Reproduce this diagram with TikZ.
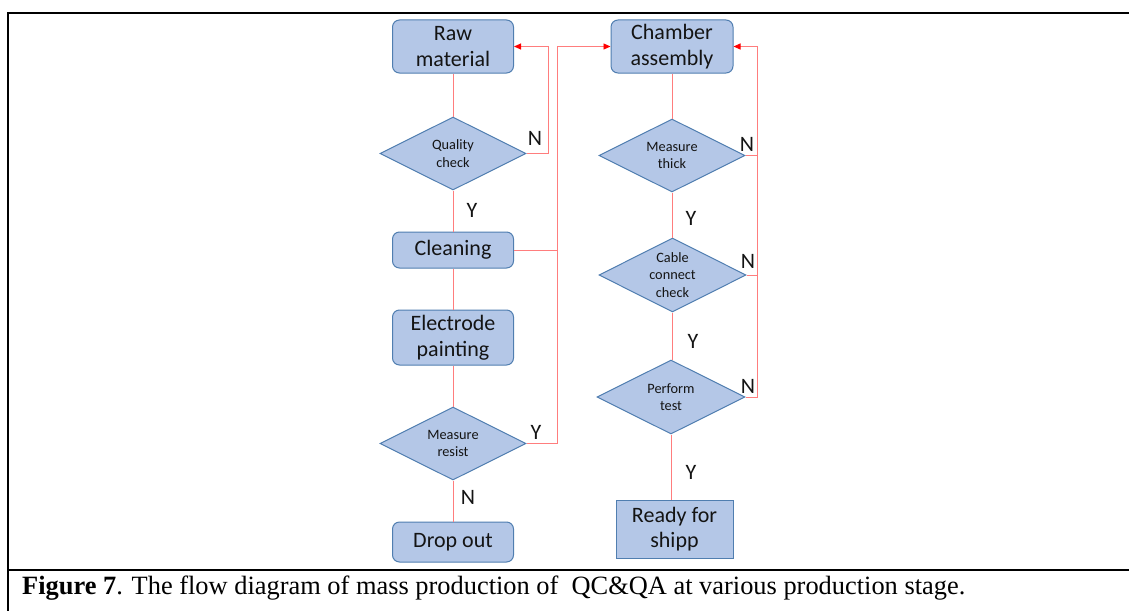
\documentclass[tikz,border=0pt]{standalone}
\usepackage{fontspec}
\setmainfont{Carlito}
\newfontfamily\capfont{Liberation Serif}
\usetikzlibrary{shapes.geometric,arrows.meta}
\definecolor{boxfill}{RGB}{180,199,231}
\definecolor{boxline}{RGB}{80,126,176}
\definecolor{linec}{RGB}{255,125,125}
\definecolor{txt}{RGB}{20,20,20}
\tikzset{
  rbox/.style={draw=boxline, fill=boxfill, line width=1pt, rounded corners=7pt,
    align=center, font=\fontsize{22}{25.5}\selectfont, text=txt, inner sep=0pt},
  sbox/.style={rbox, rounded corners=0pt},
  dia/.style={diamond, draw=boxline, fill=boxfill, line width=1pt, inner sep=0pt},
  dtext/.style={align=center, font=\fontsize{14.3}{17.5}\selectfont, text=txt},
  conn/.style={draw=linec, line width=0.9pt},
  arr/.style={conn, -{Triangle[length=7pt,width=6pt,color=red]}},
  yn/.style={font=\fontsize{22}{24}\selectfont, text=txt, inner sep=0pt},
  frame/.style={line width=2.5pt, draw=black}
}
\begin{document}
\begin{tikzpicture}[x=1pt,y=-1pt]
\useasboundingbox (0,0) rectangle (1129,610);
% frame
\draw[frame] (8,611) -- (8,13) -- (1130,13);
\draw[frame] (8,570) -- (1130,570);
% left column
\node[rbox, minimum width=121pt, minimum height=53pt] (raw) at (453,46.5) {Raw\\material};
\node[dia, minimum width=146pt, minimum height=73pt,
  label={[dtext]center:Quality\\check}] (qc) at (453,153.5) {};
\node[rbox, minimum width=121pt, minimum height=36pt] (cl) at (453,250) {Cleaning};
\node[rbox, minimum width=121pt, minimum height=55pt] (ep) at (453,337.5) {Electrode\\painting};
\node[dia, minimum width=146pt, minimum height=73pt,
  label={[dtext]center:Measure\\resist}] (mr) at (453,443.5) {};
\node[rbox, minimum width=121pt, minimum height=40pt] (do) at (453,542) {Drop out};
% right column
\node[rbox, minimum width=122pt, minimum height=53pt] (ch) at (672,46.5) {Chamber\\assembly};
\node[dia, minimum width=146pt, minimum height=73pt,
  label={[dtext]center:Measure\\thick}] (mt) at (672,155.5) {};
\node[dia, minimum width=147pt, minimum height=74pt,
  label={[dtext]center:Cable\\connect\\check}] (cc) at (672.5,275) {};
\node[dia, minimum width=148pt, minimum height=74pt,
  label={[dtext]center:Perform\\test}] (pt) at (671,397) {};
\node[sbox, minimum width=117pt, minimum height=58pt] (rs) at (674.5,529) {Ready for\\shipp};
% Y/N labels
\node[yn] (n1) at (535,138) {N};
\node[yn] (y1) at (472,210) {Y};
\node[yn] (y2) at (536,432) {Y};
\node[yn] (n2) at (468,497) {N};
\node[yn] (n3) at (747,144) {N};
\node[yn] (y3) at (691,218) {Y};
\node[yn] (n4) at (748,261) {N};
\node[yn] (y4) at (693,341) {Y};
\node[yn] (n5) at (748,386) {N};
\node[yn] (y5) at (691,472) {Y};
% connectors left
\draw[conn] (raw.south) -- (qc.north);
\draw[conn] (qc.south) -- (cl.north);
\draw[conn] (cl.south) -- (ep.north);
\draw[conn] (ep.south) -- (mr.north);
\draw[conn] (mr.south) -- (do.north);
\draw[arr] (qc.east) -- ++(22,0) |- (raw.east);
\coordinate (busL) at (557,443.5);
\draw[arr] (mr.east) -- (busL) |- (ch.west);
\draw[conn] (cl.east) -- (cl.east -| busL);
% connectors right
\draw[conn] (ch.south) -- (mt.north);
\draw[conn] (mt.south) -- (mt.south |- cc.north);
\draw[conn] (cc.south) -- (cc.south |- pt.north);
\draw[conn] (pt.south) -- (pt.south |- rs.north);
\coordinate (busR) at (757,397);
\draw[arr] (pt.east) -- (busR) |- (ch.east);
\draw[conn] (mt.east) -- (mt.east -| busR);
\draw[conn] (cc.east) -- (cc.east -| busR);
% caption
\node[anchor=base west, inner sep=0pt, font=\capfont\fontsize{26.4}{30}\selectfont] (cap) at (22,594)
  {\textbf{Figure 7}. The flow diagram of mass production of~ QC\&QA at various production stage.};
\end{tikzpicture}
\end{document}
